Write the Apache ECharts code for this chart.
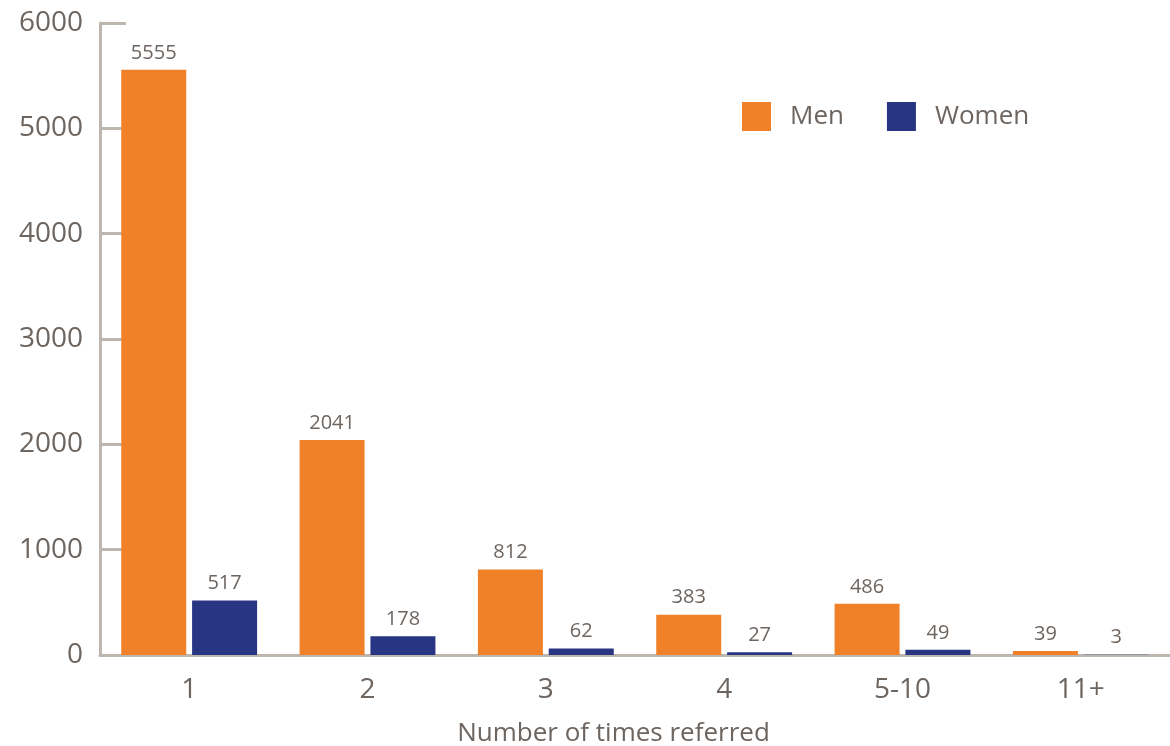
<!DOCTYPE html>
<html>
<head>
<meta charset="utf-8">
<script src="https://cdn.jsdelivr.net/npm/echarts@6/dist/echarts.min.js"></script>
<style>
  html, body { margin: 0; padding: 0; background: #fff; }
  #main { width: 1170px; height: 746px; }
</style>
</head>
<body>
<div id="main"></div>
<script>
const categories = ['1', '2', '3', '4', '5-10', '11+'];
const men = [5555, 2041, 812, 383, 486, 39];
const women = [517, 178, 62, 27, 49, 3];

const axisColor = '#bcb6ae';
const textColor = '#6d6560';
const font = '"Open Sans", sans-serif';

const myChart = echarts.init(document.getElementById('main'));
const option = {
  animation: false,
  textStyle: { fontFamily: font },
  grid: { left: 100, right: 0, top: 23, bottom: 91, outerBoundsMode: 'none', containLabel: false },
  legend: {
    top: 97,
    left: 737,
    itemWidth: 29,
    itemHeight: 29,
    itemGap: 43,
    icon: 'rect',
    textStyle: { color: textColor, fontSize: 26, fontFamily: font, padding: [2, 0, 0, 14] },
    data: ['Men', 'Women']
  },
  xAxis: {
    type: 'category',
    data: categories,
    name: 'Number of times referred',
    nameLocation: 'middle',
    nameGap: 66,
    nameTextStyle: { color: textColor, fontSize: 26, fontFamily: font, padding: [0, 43, 0, 0] },
    axisLine: { lineStyle: { color: axisColor, width: 3 } },
    axisTick: { inside: true, length: 15, lineStyle: { color: axisColor, width: 3 } },
    axisLabel: { color: textColor, fontSize: 28, margin: 21, fontFamily: font }
  },
  yAxis: {
    type: 'value',
    min: 0,
    max: 6000,
    interval: 1000,
    splitLine: { show: false },
    axisLine: { show: true, lineStyle: { color: axisColor, width: 3 } },
    axisTick: { show: true, inside: true, length: 26, lineStyle: { color: axisColor, width: 3 } },
    axisLabel: { color: textColor, fontSize: 28, margin: 17, fontFamily: font, formatter: v => String(v) }
  },
  series: [
    {
      name: 'Men',
      type: 'bar',
      data: men,
      barWidth: 65,
      barGap: '9%',
      itemStyle: { color: '#f08128' },
      label: { show: true, position: 'top', distance: 7, color: textColor, fontSize: 20, fontFamily: font }
    },
    {
      name: 'Women',
      type: 'bar',
      data: women,
      barWidth: 65,
      barGap: '9%',
      itemStyle: { color: '#283583' },
      label: { show: true, position: 'top', distance: 7, color: textColor, fontSize: 20, fontFamily: font }
    }
  ]
};
myChart.setOption(option);
</script>
</body>
</html>
